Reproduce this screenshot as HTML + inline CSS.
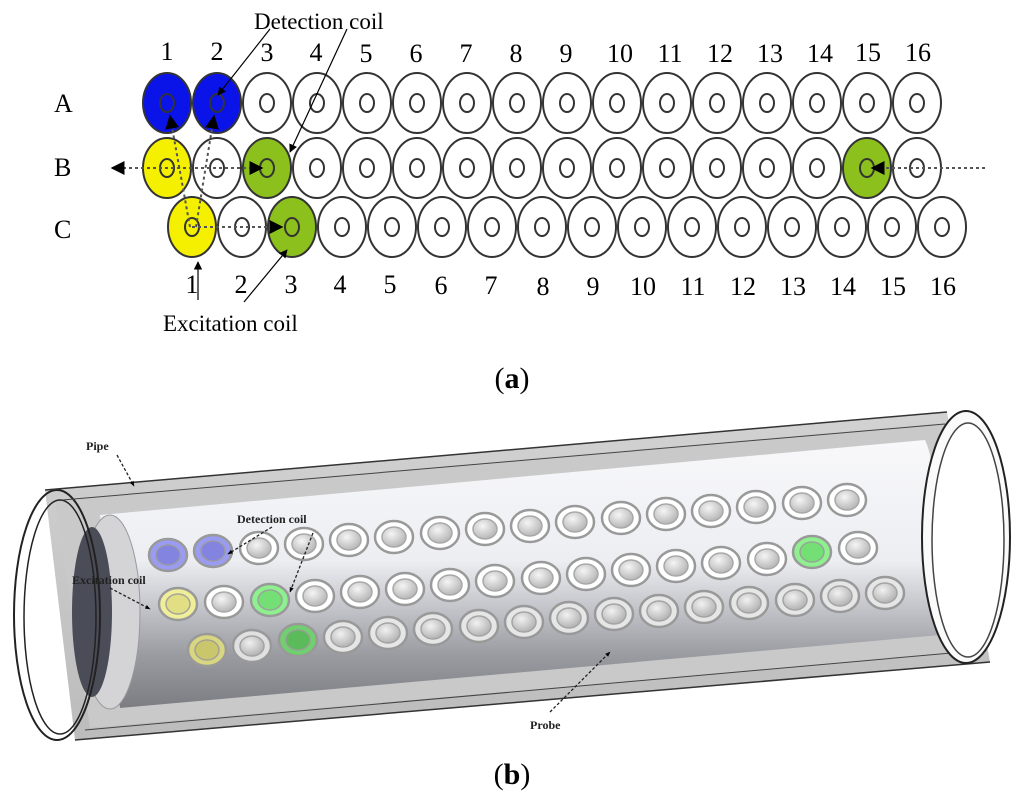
<!DOCTYPE html>
<html><head><meta charset="utf-8"><style>
html,body{margin:0;padding:0;background:#fff;}
svg{display:block;}
</style></head><body>
<svg width="1024" height="802" viewBox="0 0 1024 802" xmlns="http://www.w3.org/2000/svg">
<defs>
<marker id="ah" viewBox="0 0 10 10" refX="9" refY="5" markerWidth="7" markerHeight="7" orient="auto-start-reverse"><path d="M0,0 L10,5 L0,10 z" fill="#000"/></marker>
<marker id="ab" viewBox="0 0 10 10" refX="9" refY="5" markerWidth="4" markerHeight="4" orient="auto"><path d="M0,1 L10,5 L0,9 z" fill="#000"/></marker>
<linearGradient id="probe" x1="0" y1="0" x2="0" y2="1">
<stop offset="0" stop-color="#f8f8fa"/><stop offset="0.45" stop-color="#eceef2"/><stop offset="0.8" stop-color="#9a9ca2"/><stop offset="1" stop-color="#7b7d82"/></linearGradient>
<radialGradient id="hole" cx="0.4" cy="0.35" r="0.8"><stop offset="0" stop-color="#f4f4f4"/><stop offset="1" stop-color="#9a9a9a"/></radialGradient>
<linearGradient id="pipe" x1="0" y1="0" x2="0" y2="1"><stop offset="0" stop-color="#d2d2d2"/><stop offset="1" stop-color="#bcbcbc"/></linearGradient>
</defs>
<g font-family="Liberation Serif, serif" fill="#000">
<text x="254" y="29" font-size="23">Detection coil</text>
<text x="163" y="331" font-size="23">Excitation coil</text>
<text x="54" y="112" font-size="26">A</text>
<text x="54" y="176" font-size="26">B</text>
<text x="54" y="238" font-size="26">C</text>
<g font-size="26" text-anchor="middle">
<text x="167" y="60">1</text><text x="217" y="60">2</text><text x="267" y="61">3</text><text x="316" y="61">4</text><text x="366" y="62">5</text><text x="416" y="62">6</text><text x="466" y="62">7</text><text x="516" y="62">8</text><text x="566" y="62">9</text><text x="620" y="62">10</text><text x="670" y="62">11</text><text x="720" y="62">12</text><text x="770" y="62">13</text><text x="820" y="62">14</text><text x="868" y="61">15</text><text x="918" y="61">16</text>
<text x="192" y="293">1</text><text x="241" y="293">2</text><text x="291" y="293">3</text><text x="340" y="293">4</text><text x="390" y="293">5</text><text x="441" y="294">6</text><text x="491" y="294">7</text><text x="543" y="295">8</text><text x="593" y="295">9</text><text x="643" y="295">10</text><text x="693" y="295">11</text><text x="743" y="295">12</text><text x="793" y="295">13</text><text x="843" y="295">14</text><text x="893" y="295">15</text><text x="943" y="295">16</text>
</g>
</g>
<g stroke="#333" stroke-width="2" fill="#fff">
<ellipse cx="167" cy="103" rx="24" ry="30" fill="#0a14e8"/>
<ellipse cx="217" cy="103" rx="24" ry="30" fill="#0a14e8"/>
<ellipse cx="267" cy="103" rx="24" ry="30"/><ellipse cx="317" cy="103" rx="24" ry="30"/><ellipse cx="367" cy="103" rx="24" ry="30"/><ellipse cx="417" cy="103" rx="24" ry="30"/><ellipse cx="467" cy="103" rx="24" ry="30"/><ellipse cx="517" cy="103" rx="24" ry="30"/><ellipse cx="567" cy="103" rx="24" ry="30"/><ellipse cx="617" cy="103" rx="24" ry="30"/><ellipse cx="667" cy="103" rx="24" ry="30"/><ellipse cx="717" cy="103" rx="24" ry="30"/><ellipse cx="767" cy="103" rx="24" ry="30"/><ellipse cx="817" cy="103" rx="24" ry="30"/><ellipse cx="867" cy="103" rx="24" ry="30"/><ellipse cx="917" cy="103" rx="24" ry="30"/>
<ellipse cx="167" cy="168" rx="24" ry="30" fill="#f5f000"/>
<ellipse cx="217" cy="168" rx="24" ry="30"/>
<ellipse cx="267" cy="168" rx="24" ry="30" fill="#8cc01c"/>
<ellipse cx="317" cy="168" rx="24" ry="30"/><ellipse cx="367" cy="168" rx="24" ry="30"/><ellipse cx="417" cy="168" rx="24" ry="30"/><ellipse cx="467" cy="168" rx="24" ry="30"/><ellipse cx="517" cy="168" rx="24" ry="30"/><ellipse cx="567" cy="168" rx="24" ry="30"/><ellipse cx="617" cy="168" rx="24" ry="30"/><ellipse cx="667" cy="168" rx="24" ry="30"/><ellipse cx="717" cy="168" rx="24" ry="30"/><ellipse cx="767" cy="168" rx="24" ry="30"/><ellipse cx="817" cy="168" rx="24" ry="30"/>
<ellipse cx="867" cy="168" rx="24" ry="30" fill="#8cc01c"/>
<ellipse cx="917" cy="168" rx="24" ry="30"/>
<ellipse cx="192" cy="227" rx="24" ry="30" fill="#f5f000"/>
<ellipse cx="242" cy="227" rx="24" ry="30"/>
<ellipse cx="292" cy="227" rx="24" ry="30" fill="#8cc01c"/>
<ellipse cx="342" cy="227" rx="24" ry="30"/><ellipse cx="392" cy="227" rx="24" ry="30"/><ellipse cx="442" cy="227" rx="24" ry="30"/><ellipse cx="492" cy="227" rx="24" ry="30"/><ellipse cx="542" cy="227" rx="24" ry="30"/><ellipse cx="592" cy="227" rx="24" ry="30"/><ellipse cx="642" cy="227" rx="24" ry="30"/><ellipse cx="692" cy="227" rx="24" ry="30"/><ellipse cx="742" cy="227" rx="24" ry="30"/><ellipse cx="792" cy="227" rx="24" ry="30"/><ellipse cx="842" cy="227" rx="24" ry="30"/><ellipse cx="892" cy="227" rx="24" ry="30"/><ellipse cx="942" cy="227" rx="24" ry="30"/>
</g>
<g stroke="#333" stroke-width="2" fill="none">
<g id="ia"><ellipse cx="167" cy="103" rx="7" ry="9"/><ellipse cx="217" cy="103" rx="7" ry="9"/><ellipse cx="267" cy="103" rx="7" ry="9"/><ellipse cx="317" cy="103" rx="7" ry="9"/><ellipse cx="367" cy="103" rx="7" ry="9"/><ellipse cx="417" cy="103" rx="7" ry="9"/><ellipse cx="467" cy="103" rx="7" ry="9"/><ellipse cx="517" cy="103" rx="7" ry="9"/><ellipse cx="567" cy="103" rx="7" ry="9"/><ellipse cx="617" cy="103" rx="7" ry="9"/><ellipse cx="667" cy="103" rx="7" ry="9"/><ellipse cx="717" cy="103" rx="7" ry="9"/><ellipse cx="767" cy="103" rx="7" ry="9"/><ellipse cx="817" cy="103" rx="7" ry="9"/><ellipse cx="867" cy="103" rx="7" ry="9"/><ellipse cx="917" cy="103" rx="7" ry="9"/></g>
<use href="#ia" y="65"/>
<use href="#ia" x="25" y="124"/>
</g>
<g stroke="#555" stroke-width="2" stroke-dasharray="3,3" fill="none">
<line x1="252" y1="168" x2="112" y2="168" marker-end="url(#ah)"/>
<line x1="985" y1="168" x2="872" y2="168" marker-end="url(#ah)"/>
<line x1="192" y1="227" x2="282" y2="227" marker-end="url(#ah)"/>
<line x1="190" y1="227" x2="170" y2="116" marker-end="url(#ah)"/>
<line x1="196" y1="227" x2="214" y2="116" marker-end="url(#ah)"/>
</g>
<line x1="250" y1="168" x2="262" y2="168" stroke="#000" stroke-width="2" marker-end="url(#ah)"/>
<g stroke="#000" stroke-width="1.2" fill="none">
<line x1="270" y1="29" x2="218" y2="95" marker-end="url(#ah)"/>
<line x1="347" y1="29" x2="290" y2="152" marker-end="url(#ah)"/>
<line x1="198" y1="300" x2="198" y2="262" marker-end="url(#ah)"/>
<line x1="244" y1="302" x2="287" y2="250" marker-end="url(#ah)"/>
</g>
<text x="512" y="388" font-family="Liberation Serif, serif" font-size="30" text-anchor="middle">(<tspan font-weight="bold">a</tspan>)</text>

<path d="M45,490 L947,412 L990,662 L75,740 Z" fill="url(#pipe)"/>
<path d="M55,500 L945,423 L985,650 L90,728 Z" fill="#c9c9c9"/>
<path d="M100,515 L925,440 C940,470 945,600 940,635 L120,708 Z" fill="url(#probe)"/>
<ellipse cx="110" cy="612" rx="30" ry="97" fill="#d4d4d6" stroke="#999" stroke-width="1"/>
<ellipse cx="92" cy="612" rx="20" ry="85" fill="#4a4c58"/>
<ellipse cx="57" cy="615" rx="43" ry="125" fill="none" stroke="#222" stroke-width="2"/>
<ellipse cx="60" cy="617" rx="36" ry="117" fill="none" stroke="#222" stroke-width="1.5"/>
<line x1="45" y1="490" x2="947" y2="412" stroke="#333" stroke-width="1.5"/>
<line x1="62" y1="500" x2="945" y2="424" stroke="#444" stroke-width="1"/>
<line x1="75" y1="740" x2="990" y2="662" stroke="#333" stroke-width="1.5"/>
<line x1="85" y1="730" x2="985" y2="650" stroke="#444" stroke-width="1"/>
<ellipse cx="966" cy="537" rx="44" ry="126" fill="#fafafa" stroke="#222" stroke-width="2"/>
<ellipse cx="968" cy="540" rx="36" ry="117" fill="#fff" stroke="#444" stroke-width="1.5"/>
<g stroke="#999" stroke-width="2.5">
<ellipse cx="168" cy="555" rx="19" ry="16" fill="#9a9cf2"/><ellipse cx="213" cy="551" rx="19" ry="16" fill="#9a9cf2"/>
<ellipse cx="259" cy="548" rx="19" ry="16" fill="#fff"/><ellipse cx="304" cy="544" rx="19" ry="16" fill="#fff"/><ellipse cx="349" cy="540" rx="19" ry="16" fill="#fff"/><ellipse cx="394" cy="537" rx="19" ry="16" fill="#fff"/><ellipse cx="440" cy="533" rx="19" ry="16" fill="#fff"/><ellipse cx="485" cy="529" rx="19" ry="16" fill="#fff"/><ellipse cx="530" cy="526" rx="19" ry="16" fill="#fff"/><ellipse cx="575" cy="522" rx="19" ry="16" fill="#fff"/><ellipse cx="621" cy="518" rx="19" ry="16" fill="#fff"/><ellipse cx="666" cy="514" rx="19" ry="16" fill="#fff"/><ellipse cx="711" cy="511" rx="19" ry="16" fill="#fff"/><ellipse cx="756" cy="507" rx="19" ry="16" fill="#fff"/><ellipse cx="802" cy="503" rx="19" ry="16" fill="#fff"/><ellipse cx="847" cy="500" rx="19" ry="16" fill="#fff"/>
<ellipse cx="178" cy="604" rx="19" ry="16" fill="#f0ee9a"/><ellipse cx="224" cy="602" rx="19" ry="16" fill="#fff"/><ellipse cx="270" cy="600" rx="19" ry="16" fill="#8ef08e"/>
<ellipse cx="315" cy="596" rx="19" ry="16" fill="#fff"/><ellipse cx="360" cy="592" rx="19" ry="16" fill="#fff"/><ellipse cx="405" cy="589" rx="19" ry="16" fill="#fff"/><ellipse cx="450" cy="585" rx="19" ry="16" fill="#fff"/><ellipse cx="495" cy="581" rx="19" ry="16" fill="#fff"/><ellipse cx="541" cy="578" rx="19" ry="16" fill="#fff"/><ellipse cx="586" cy="574" rx="19" ry="16" fill="#fff"/><ellipse cx="631" cy="570" rx="19" ry="16" fill="#fff"/><ellipse cx="676" cy="566" rx="19" ry="16" fill="#fff"/><ellipse cx="721" cy="563" rx="19" ry="16" fill="#fff"/><ellipse cx="767" cy="559" rx="19" ry="16" fill="#fff"/><ellipse cx="812" cy="552" rx="19" ry="16" fill="#8ef08e"/><ellipse cx="858" cy="548" rx="19" ry="16" fill="#fff"/>
<ellipse cx="207" cy="650" rx="19" ry="16" fill="#d8d680"/><ellipse cx="252" cy="646" rx="19" ry="16" fill="#e0e0e0"/><ellipse cx="298" cy="640" rx="19" ry="16" fill="#70d070"/>
<ellipse cx="343" cy="637" rx="19" ry="16" fill="#e6e6e6"/><ellipse cx="388" cy="633" rx="19" ry="16" fill="#e6e6e6"/><ellipse cx="433" cy="629" rx="19" ry="16" fill="#e6e6e6"/><ellipse cx="479" cy="626" rx="19" ry="16" fill="#e6e6e6"/><ellipse cx="524" cy="622" rx="19" ry="16" fill="#e6e6e6"/><ellipse cx="569" cy="618" rx="19" ry="16" fill="#e6e6e6"/><ellipse cx="614" cy="614" rx="19" ry="16" fill="#e6e6e6"/><ellipse cx="659" cy="611" rx="19" ry="16" fill="#e6e6e6"/><ellipse cx="704" cy="607" rx="19" ry="16" fill="#e6e6e6"/><ellipse cx="749" cy="603" rx="19" ry="16" fill="#e6e6e6"/><ellipse cx="795" cy="600" rx="19" ry="16" fill="#e6e6e6"/><ellipse cx="840" cy="596" rx="19" ry="16" fill="#e6e6e6"/><ellipse cx="885" cy="593" rx="19" ry="16" fill="#e6e6e6"/>
</g>
<g stroke="#999" stroke-width="1.5" fill="url(#hole)" opacity="0.85">
<ellipse cx="168" cy="555" rx="12" ry="10" fill="#8080dd"/><ellipse cx="213" cy="551" rx="12" ry="10" fill="#8080dd"/>
<ellipse cx="259" cy="548" rx="12" ry="10"/><ellipse cx="304" cy="544" rx="12" ry="10"/><ellipse cx="349" cy="540" rx="12" ry="10"/><ellipse cx="394" cy="537" rx="12" ry="10"/><ellipse cx="440" cy="533" rx="12" ry="10"/><ellipse cx="485" cy="529" rx="12" ry="10"/><ellipse cx="530" cy="526" rx="12" ry="10"/><ellipse cx="575" cy="522" rx="12" ry="10"/><ellipse cx="621" cy="518" rx="12" ry="10"/><ellipse cx="666" cy="514" rx="12" ry="10"/><ellipse cx="711" cy="511" rx="12" ry="10"/><ellipse cx="756" cy="507" rx="12" ry="10"/><ellipse cx="802" cy="503" rx="12" ry="10"/><ellipse cx="847" cy="500" rx="12" ry="10"/>
<ellipse cx="178" cy="604" rx="12" ry="10" fill="#e0dc80"/><ellipse cx="224" cy="602" rx="12" ry="10"/><ellipse cx="270" cy="600" rx="12" ry="10" fill="#70dd70"/>
<ellipse cx="315" cy="596" rx="12" ry="10"/><ellipse cx="360" cy="592" rx="12" ry="10"/><ellipse cx="405" cy="589" rx="12" ry="10"/><ellipse cx="450" cy="585" rx="12" ry="10"/><ellipse cx="495" cy="581" rx="12" ry="10"/><ellipse cx="541" cy="578" rx="12" ry="10"/><ellipse cx="586" cy="574" rx="12" ry="10"/><ellipse cx="631" cy="570" rx="12" ry="10"/><ellipse cx="676" cy="566" rx="12" ry="10"/><ellipse cx="721" cy="563" rx="12" ry="10"/><ellipse cx="767" cy="559" rx="12" ry="10"/><ellipse cx="812" cy="552" rx="12" ry="10" fill="#70dd70"/><ellipse cx="858" cy="548" rx="12" ry="10"/>
<ellipse cx="207" cy="650" rx="12" ry="10" fill="#c8c468"/><ellipse cx="252" cy="646" rx="12" ry="10"/><ellipse cx="298" cy="640" rx="12" ry="10" fill="#58b858"/>
<ellipse cx="343" cy="637" rx="12" ry="10"/><ellipse cx="388" cy="633" rx="12" ry="10"/><ellipse cx="433" cy="629" rx="12" ry="10"/><ellipse cx="479" cy="626" rx="12" ry="10"/><ellipse cx="524" cy="622" rx="12" ry="10"/><ellipse cx="569" cy="618" rx="12" ry="10"/><ellipse cx="614" cy="614" rx="12" ry="10"/><ellipse cx="659" cy="611" rx="12" ry="10"/><ellipse cx="704" cy="607" rx="12" ry="10"/><ellipse cx="749" cy="603" rx="12" ry="10"/><ellipse cx="795" cy="600" rx="12" ry="10"/><ellipse cx="840" cy="596" rx="12" ry="10"/><ellipse cx="885" cy="593" rx="12" ry="10"/>
</g>
<g font-family="Liberation Serif, serif" font-weight="bold" font-size="12" fill="#222">
<text x="86" y="450">Pipe</text>
<text x="237" y="523">Detection coil</text>
<text x="72" y="584">Excitation coil</text>
<text x="530" y="729">Probe</text>
</g>
<g stroke="#222" stroke-width="1.3" stroke-dasharray="3,2" fill="none">
<line x1="117" y1="455" x2="134" y2="486" marker-end="url(#ab)"/>
<line x1="272" y1="527" x2="228" y2="554" marker-end="url(#ab)"/>
<line x1="313" y1="533" x2="290" y2="592" marker-end="url(#ab)"/>
<line x1="110" y1="588" x2="150" y2="609" marker-end="url(#ab)"/>
<line x1="550" y1="712" x2="610" y2="652" marker-end="url(#ab)"/>
</g>
<text x="512" y="784" font-family="Liberation Serif, serif" font-size="30" text-anchor="middle">(<tspan font-weight="bold">b</tspan>)</text>
</svg>
</body></html>
